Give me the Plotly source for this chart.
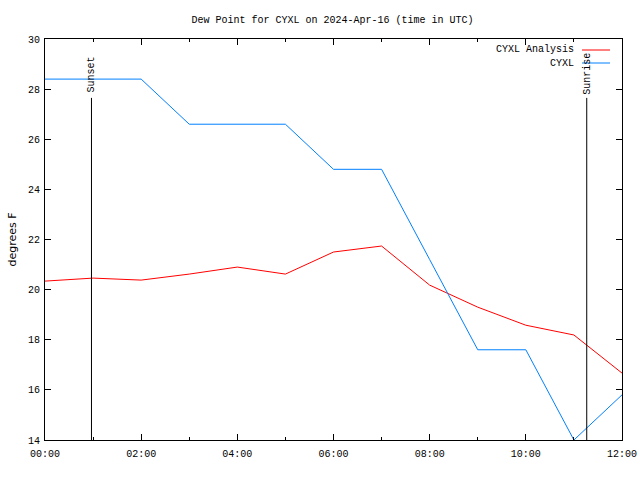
import plotly.graph_objects as go

day = "2024-04-16"
hours = ["00:00", "01:00", "02:00", "03:00", "04:00", "05:00", "06:00",
         "07:00", "08:00", "09:00", "10:00", "11:00", "12:00"]
analysis_vals = [20.34, 20.46, 20.38, 20.62, 20.9, 20.62, 21.5,
                 21.74, 20.18, 19.3, 18.58, 18.19, 16.67]
obs_vals = [28.4, 28.4, 28.4, 26.6, 26.6, 26.6, 24.8,
            24.8, 21.2, 17.6, 17.6, 14.0, 15.8]
sunset_time = "00:58"
sunrise_time = "11:16"
event_line_top = 27.65
event_label_y = 28.6
y_ticks = [14, 16, 18, 20, 22, 24, 26, 28, 30]
x_ticks = ["00:00", "02:00", "04:00", "06:00", "08:00", "10:00", "12:00"]

def ts(h):
    return f"{day} {h}:00"

font = dict(family="Liberation Mono", size=10, color="black")
sans = dict(family="DejaVu Sans", size=11, color="black")

fig = go.Figure()
fig.add_trace(go.Scatter(x=[ts(h) for h in hours], y=analysis_vals, mode="lines",
                         line=dict(color="#ff0000", width=1), name="CYXL Analysis"))
fig.add_trace(go.Scatter(x=[ts(h) for h in hours], y=obs_vals, mode="lines",
                         line=dict(color="#0080ff", width=1), name="CYXL"))
for t, lab in [(sunset_time, "Sunset"), (sunrise_time, "Sunrise")]:
    fig.add_trace(go.Scatter(x=[ts(t), ts(t)], y=[14, event_line_top], mode="lines",
                             line=dict(color="black", width=1), showlegend=False))
    fig.add_annotation(x=ts(t), y=event_label_y, text=lab, textangle=-90,
                       showarrow=False, xanchor="center", yanchor="middle", font=font)

# legend drawn manually (text right-aligned, sample on right)
for i, (lab, col) in enumerate([("CYXL Analysis", "#ff0000"), ("CYXL", "#0080ff")]):
    ypix = 50 + 13 * i
    yp = 1 - (ypix - 39) / 401
    fig.add_annotation(xref="paper", yref="paper", x=(576 - 45) / 577, y=yp,
                       text=lab, showarrow=False, xanchor="right", yanchor="middle", font=font)
    fig.add_shape(type="line", xref="paper", yref="paper",
                  x0=(582 - 45) / 577, x1=(610 - 45) / 577, y0=yp, y1=yp,
                  line=dict(color=col, width=1))

fig.update_layout(
    width=640, height=480,
    margin=dict(l=45, r=18, t=39, b=40),
    paper_bgcolor="white", plot_bgcolor="white",
    showlegend=False,
    font=font,
    title=dict(text="Dew Point for CYXL on 2024-Apr-16 (time in UTC)", x=332.5 / 640, xanchor="center",
               y=1 - 19 / 480, yanchor="middle", font=font),
)
fig.update_xaxes(
    type="date", range=[ts("00:00"), ts("12:00")],
    tickvals=[ts(h) for h in x_ticks], ticktext=x_ticks,
    ticks="inside", ticklen=6, tickcolor="black", mirror="allticks",
    showline=True, linecolor="black", linewidth=1, showgrid=False, zeroline=False,
    minor=dict(dtick=3600000, ticks="inside", ticklen=3, tickcolor="black", showgrid=False),
    tickfont=font, automargin=False, ticklabelstandoff=4,
)
fig.update_yaxes(
    range=[14, 30], tickvals=y_ticks,
    ticks="inside", ticklen=6, tickcolor="black", mirror="allticks",
    showline=True, linecolor="black", linewidth=1, showgrid=False, zeroline=False,
    title=dict(text="degrees F", font=sans, standoff=9), tickfont=font, automargin=False,
    ticklabelstandoff=2,
)
fig.write_html("out.html", config={"displayModeBar": False},
               post_script="document.body.style.margin='0';")
